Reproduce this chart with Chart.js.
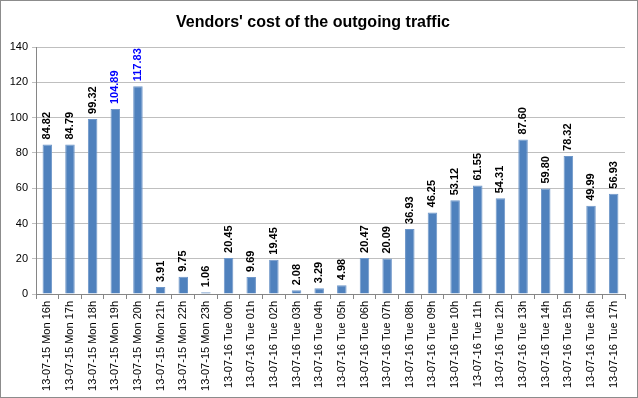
<!DOCTYPE html>
<html>
<head>
<meta charset="utf-8">
<script src="https://cdn.jsdelivr.net/npm/chart.js@4"></script>
<style>
  html, body { margin: 0; padding: 0; background: #ffffff; }
  #wrap {
    width: 638px; height: 398px; box-sizing: border-box;
    border: 1px solid #8c8c8c; position: relative; background: #ffffff;
  }
  #wrap canvas { display: block; }
</style>
</head>
<body>
<div id="wrap"><canvas id="costChart" width="636" height="396"></canvas></div>
<script>
const hourLabels = [
    "13-07-15 Mon 16h", "13-07-15 Mon 17h", "13-07-15 Mon 18h", "13-07-15 Mon 19h",
    "13-07-15 Mon 20h", "13-07-15 Mon 21h", "13-07-15 Mon 22h", "13-07-15 Mon 23h",
    "13-07-16 Tue 00h", "13-07-16 Tue 01h", "13-07-16 Tue 02h", "13-07-16 Tue 03h",
    "13-07-16 Tue 04h", "13-07-16 Tue 05h", "13-07-16 Tue 06h", "13-07-16 Tue 07h",
    "13-07-16 Tue 08h", "13-07-16 Tue 09h", "13-07-16 Tue 10h", "13-07-16 Tue 11h",
    "13-07-16 Tue 12h", "13-07-16 Tue 13h", "13-07-16 Tue 14h", "13-07-16 Tue 15h",
    "13-07-16 Tue 16h", "13-07-16 Tue 17h"
];

const costValues = [
    84.82, 84.79, 99.32, 104.89, 117.83, 3.91, 9.75, 1.06,
    20.45, 9.69, 19.45, 2.08, 3.29, 4.98, 20.47, 20.09,
    36.93, 46.25, 53.12, 61.55, 54.31, 87.60, 59.80, 78.32,
    49.99, 56.93
];

// labels shown in blue in the original sheet
const highlightedIdx = [3, 4];

const yTicks = [0, 20, 40, 60, 80, 100, 120, 140];

const FONT = "'Liberation Sans', Arial, sans-serif";

const valueLabelPlugin = {
    id: "valueLabels",
    afterDatasetsDraw(chart) {
        const ctx = chart.ctx;
        const meta = chart.getDatasetMeta(0);
        ctx.save();
        ctx.font = "bold 11px " + FONT;
        ctx.textAlign = "left";
        ctx.textBaseline = "middle";
        meta.data.forEach((bar, i) => {
            const value = chart.data.datasets[0].data[i];
            ctx.save();
            ctx.translate(bar.x, bar.y - 5);
            ctx.rotate(-Math.PI / 2);
            ctx.fillStyle = highlightedIdx.includes(i) ? "#0000ff" : "#000000";
            ctx.fillText(value.toFixed(2), 0, 0);
            ctx.restore();
        });
        ctx.restore();
    }
};

new Chart(document.getElementById("costChart").getContext("2d"), {
    type: "bar",
    data: {
        labels: hourLabels,
        datasets: [{
            data: costValues,
            backgroundColor: "#4f81bd",
            borderColor: "#6f97c9",
            borderWidth: { left: 1, right: 1, top: 1, bottom: 0 },
            barPercentage: 0.42,
            categoryPercentage: 1
        }]
    },
    options: {
        responsive: false,
        animation: false,
        events: [],
        layout: {
            padding: { left: 0, right: 12, top: 0, bottom: 6 }
        },
        plugins: {
            legend: { display: false },
            tooltip: { enabled: false },
            title: {
                display: true,
                text: "Vendors' cost of the outgoing traffic",
                color: "#000000",
                font: { family: FONT, size: 16, weight: "bold" },
                padding: { top: 12, bottom: 15 }
            }
        },
        scales: {
            x: {
                grid: {
                    display: true,
                    drawOnChartArea: false,
                    drawTicks: true,
                    tickLength: 5,
                    offset: true,
                    color: "#868686"
                },
                border: { color: "#868686" },
                ticks: {
                    color: "#000000",
                    font: { family: FONT, size: 11 },
                    minRotation: 90,
                    maxRotation: 90,
                    autoSkip: false,
                    padding: 2
                },
                afterFit(scale) { scale.height = 97; }
            },
            y: {
                min: 0,
                max: 140,
                afterBuildTicks(scale) {
                    scale.ticks = yTicks.map((v) => ({ value: v }));
                },
                grid: {
                    color: "#bfbfbf",
                    tickLength: 4,
                    drawTicks: true
                },
                border: { color: "#868686" },
                ticks: {
                    color: "#000000",
                    font: { family: FONT, size: 11 },
                    padding: 4
                },
                afterFit(scale) { scale.width = 35; }
            }
        }
    },
    plugins: [valueLabelPlugin]
});
</script>
</body>
</html>
